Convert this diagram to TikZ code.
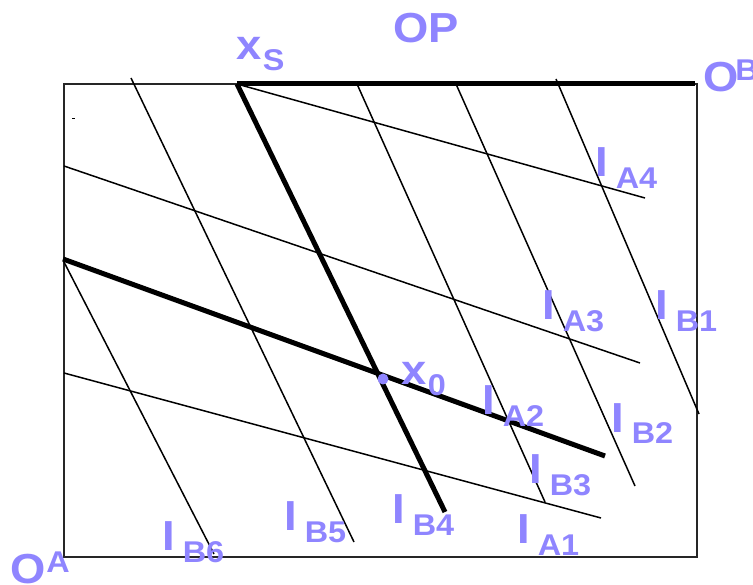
\documentclass[tikz,border=0pt]{standalone}
\usepackage{fontspec}
\setmainfont{Liberation Sans}[FakeStretch=1.08]
\definecolor{labcol}{RGB}{143,133,255}
\newcommand{\subsz}{\fontsize{30}{30}\selectfont}
\newcommand{\isub}[2]{#1\kern8pt\raisebox{-12pt}{\subsz #2}}
\newcommand{\xsub}[2]{#1\kern1.5pt\raisebox{-11pt}{\subsz #2}}
\newcommand{\osup}[3]{#1\kern#3\raisebox{11pt}{\subsz #2}}

\begin{document}
\begin{tikzpicture}[x=1pt,y=-1pt,font=\fontsize{42}{42}\selectfont\bfseries]
    \tikzset{
      thinln/.style={line width=1.5pt},
      thickln/.style={line width=5pt},
      box/.style={line width=2pt,draw=black!85},
      lab/.style={text=labcol,inner sep=0pt,anchor=base west}}
    \useasboundingbox (0,0) rectangle (753,585);
    \draw[box] (64,84) rectangle (697,557);
    \draw[line width=1pt] (72,119) -- (75,119);
    % end points of the lines
    \coordinate (xs) at (237,84);   \coordinate (ob) at (695,84);
    \coordinate (b4e) at (445,512);
    \coordinate (a2s) at (63,259);  \coordinate (a2e) at (605,456);
    \coordinate (a4e) at (645,198);
    \coordinate (a3s) at (64,166);  \coordinate (a3e) at (640,363);
    \coordinate (a1s) at (64,373);  \coordinate (a1e) at (601,518);
    \coordinate (b6s) at (64,262);  \coordinate (b6e) at (214,554);
    \coordinate (b5s) at (131,78);  \coordinate (b5e) at (354,542);
    \coordinate (b3s) at (357,84);  \coordinate (b3e) at (545,502);
    \coordinate (b2s) at (456,84);  \coordinate (b2e) at (635,486);
    \coordinate (b1s) at (556,79);  \coordinate (b1e) at (699,414);
    \foreach \a/\b in {xs/a4e,a3s/a3e,a1s/a1e,b6s/b6e,b5s/b5e,b3s/b3e,b2s/b2e,b1s/b1e}
      \draw[thinln] (\a) -- (\b);
    \foreach \a/\b in {xs/ob,xs/b4e,a2s/a2e}
      \draw[thickln] (\a) -- (\b);
    \coordinate (x0) at (383,379);
    \fill[labcol] (x0) circle (5.5);
    % labels
    \node[lab] (lop) at (393,43)  {OP};
    \node[lab] (lxs) at (236,60)  {\xsub{x}{S}};
    \node[lab] (lob) at (703,92)  {\osup{O}{B}{-3pt}};
    \node[lab] (la4) at (595,177) {\isub{I}{A4}};
    \node[lab] (la3) at (542,320) {\isub{I}{A3}};
    \node[lab] (lb1) at (655,320) {\isub{I}{B1}};
    \node[lab] (lx0) at (401,385) {\xsub{x}{0}};
    \node[lab] (la2) at (482,415) {\isub{I}{A2}};
    \node[lab] (lb2) at (611,432) {\isub{I}{B2}};
    \node[lab] (lb3) at (529,483) {\isub{I}{B3}};
    \node[lab] (lb4) at (392,523) {\isub{I}{B4}};
    \node[lab] (la1) at (517,543) {\isub{I}{A1}};
    \node[lab] (lb5) at (284,530) {\isub{I}{B5}};
    \node[lab] (lb6) at (162,550) {\isub{I}{B6}};
    \node[lab] (loa) at (10,583)  {\osup{O}{A}{1pt}};
\end{tikzpicture}
\end{document}
